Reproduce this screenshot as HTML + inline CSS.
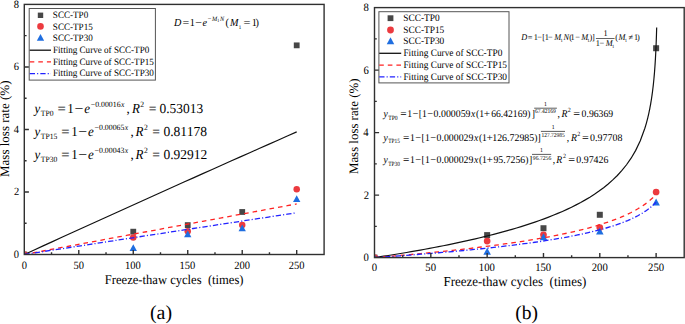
<!DOCTYPE html>
<html><head><meta charset="utf-8"><style>
html,body{margin:0;padding:0;background:#fff;}
svg{display:block;}
text{font-family:"Liberation Serif",serif;fill:#000;white-space:pre;text-rendering:geometricPrecision;}
</style></head><body>
<svg width="685" height="324" viewBox="0 0 685 324">
<rect width="685" height="324" fill="#fff"/>
<defs><clipPath id="ca"><rect x="24.3" y="4.4" width="299.80" height="250.10"/></clipPath><clipPath id="cb"><rect x="374.5" y="7.6" width="309.70" height="250.00"/></clipPath></defs>
<g clip-path="url(#ca)"><rect x="21.40" y="251.60" width="5.80" height="5.80" fill="#474747"/><circle cx="24.30" cy="254.50" r="3.25" fill="#ec3a3f"/><path d="M24.30 251.10L27.97 257.90L20.63 257.90Z" fill="#1f6ee0"/><rect x="130.36" y="228.78" width="5.80" height="5.80" fill="#474747"/><rect x="184.84" y="222.21" width="5.80" height="5.80" fill="#474747"/><rect x="239.32" y="209.08" width="5.80" height="5.80" fill="#474747"/><rect x="293.80" y="42.45" width="5.80" height="5.80" fill="#474747"/><circle cx="133.26" cy="237.62" r="3.25" fill="#ec3a3f"/><circle cx="187.74" cy="231.37" r="3.25" fill="#ec3a3f"/><circle cx="242.22" cy="225.11" r="3.25" fill="#ec3a3f"/><circle cx="296.70" cy="189.16" r="3.25" fill="#ec3a3f"/><path d="M133.26 244.22L136.93 251.02L129.59 251.02Z" fill="#1f6ee0"/><path d="M187.74 230.47L191.41 237.27L184.07 237.27Z" fill="#1f6ee0"/><path d="M242.22 224.53L245.89 231.33L238.55 231.33Z" fill="#1f6ee0"/><path d="M296.70 195.14L300.37 201.94L293.03 201.94Z" fill="#1f6ee0"/><path d="M24.30 254.50 L33.69 250.19 L43.09 245.89 L52.48 241.59 L61.87 237.30 L71.27 233.01 L80.66 228.73 L90.05 224.46 L99.44 220.19 L108.84 215.93 L118.23 211.68 L127.62 207.43 L137.02 203.18 L146.41 198.94 L155.80 194.71 L165.20 190.48 L174.59 186.26 L183.98 182.05 L193.38 177.84 L202.77 173.63 L212.16 169.44 L221.56 165.25 L230.95 161.06 L240.34 156.88 L249.73 152.70 L259.13 148.54 L268.52 144.37 L277.91 140.22 L287.31 136.06 L296.70 131.92" stroke="#111" stroke-width="1.2" fill="none"/><path d="M24.30 254.50 L33.69 252.74 L43.09 250.99 L52.48 249.23 L61.87 247.48 L71.27 245.73 L80.66 243.97 L90.05 242.22 L99.44 240.47 L108.84 238.73 L118.23 236.98 L127.62 235.23 L137.02 233.48 L146.41 231.74 L155.80 230.00 L165.20 228.25 L174.59 226.51 L183.98 224.77 L193.38 223.03 L202.77 221.29 L212.16 219.55 L221.56 217.82 L230.95 216.08 L240.34 214.35 L249.73 212.61 L259.13 210.88 L268.52 209.15 L277.91 207.41 L287.31 205.68 L296.70 203.96" stroke="#f22" stroke-width="1.3" fill="none" stroke-dasharray="4.6 4"/><path d="M24.30 254.50 L33.69 253.05 L43.09 251.60 L52.48 250.15 L61.87 248.71 L71.27 247.26 L80.66 245.81 L90.05 244.37 L99.44 242.92 L108.84 241.48 L118.23 240.03 L127.62 238.59 L137.02 237.15 L146.41 235.71 L155.80 234.27 L165.20 232.83 L174.59 231.39 L183.98 229.95 L193.38 228.51 L202.77 227.07 L212.16 225.64 L221.56 224.20 L230.95 222.76 L240.34 221.33 L249.73 219.89 L259.13 218.46 L268.52 217.03 L277.91 215.60 L287.31 214.16 L296.70 212.73" stroke="#22f" stroke-width="1.3" fill="none" stroke-dasharray="5.3 2.1 1.1 2.1"/></g>
<rect x="24.30" y="4.40" width="299.80" height="250.10" fill="none" stroke="#303030" stroke-width="1.4"/>
<path d="M51.54 254.50V252.20M78.78 254.50V249.90M106.02 254.50V252.20M133.26 254.50V249.90M160.50 254.50V252.20M187.74 254.50V249.90M214.98 254.50V252.20M242.22 254.50V249.90M269.46 254.50V252.20M296.70 254.50V249.90M24.30 223.24H26.60M24.30 191.97H28.90M24.30 160.71H26.60M24.30 129.45H28.90M24.30 98.19H26.60M24.30 66.93H28.90M24.30 35.66H26.60" stroke="#303030" stroke-width="1.4" fill="none"/>
<g clip-path="url(#cb)"><rect x="371.50" y="254.60" width="6.00" height="6.00" fill="#474747"/><circle cx="374.50" cy="257.60" r="3.35" fill="#ec3a3f"/><path d="M374.50 254.10L378.28 261.10L370.72 261.10Z" fill="#1f6ee0"/><rect x="484.15" y="232.10" width="6.00" height="6.00" fill="#474747"/><rect x="540.48" y="225.23" width="6.00" height="6.00" fill="#474747"/><rect x="596.80" y="211.79" width="6.00" height="6.00" fill="#474747"/><rect x="653.12" y="45.23" width="6.00" height="6.00" fill="#474747"/><circle cx="487.15" cy="241.04" r="3.35" fill="#ec3a3f"/><circle cx="543.48" cy="234.79" r="3.35" fill="#ec3a3f"/><circle cx="599.80" cy="227.60" r="3.35" fill="#ec3a3f"/><circle cx="656.12" cy="191.98" r="3.35" fill="#ec3a3f"/><path d="M487.15 247.85L490.93 254.85L483.37 254.85Z" fill="#1f6ee0"/><path d="M543.48 233.16L547.25 240.16L539.70 240.16Z" fill="#1f6ee0"/><path d="M599.80 227.54L603.58 234.54L596.02 234.54Z" fill="#1f6ee0"/><path d="M656.12 198.48L659.90 205.48L652.35 205.48Z" fill="#1f6ee0"/><path d="M374.50 257.60 L379.08 256.90 L383.66 256.19 L388.25 255.47 L392.83 254.74 L397.41 254.00 L401.99 253.24 L406.58 252.47 L411.16 251.68 L415.74 250.88 L420.32 250.07 L424.91 249.24 L429.49 248.39 L434.07 247.53 L438.65 246.65 L443.24 245.75 L447.82 244.83 L452.40 243.89 L456.98 242.93 L461.57 241.95 L466.15 240.94 L470.73 239.91 L475.31 238.86 L479.89 237.78 L484.48 236.67 L489.06 235.53 L493.64 234.36 L498.22 233.16 L502.81 231.93 L507.39 230.66 L511.97 229.35 L516.55 227.99 L521.14 226.60 L525.72 225.15 L530.30 223.66 L534.88 222.11 L539.47 220.51 L544.05 218.84 L548.63 217.10 L553.21 215.30 L557.79 213.41 L562.38 211.43 L566.96 209.36 L571.54 207.18 L576.12 204.88 L580.71 202.46 L585.29 199.88 L589.87 197.14 L594.45 194.22 L599.04 191.07 L603.62 187.67 L608.20 183.98 L612.78 179.93 L617.37 175.46 L621.95 170.45 L626.53 164.76 L631.11 158.18 L635.70 150.38 L640.28 140.78 L644.86 128.28 L645.09 127.55 L645.28 126.91 L645.48 126.26 L645.67 125.60 L645.87 124.93 L646.07 124.24 L646.26 123.55 L646.46 122.84 L646.66 122.12 L646.85 121.39 L647.05 120.65 L647.25 119.89 L647.44 119.12 L647.64 118.33 L647.84 117.53 L648.03 116.71 L648.23 115.88 L648.43 115.02 L648.62 114.15 L648.82 113.27 L649.01 112.36 L649.21 111.43 L649.41 110.48 L649.60 109.51 L649.80 108.51 L650.00 107.49 L650.19 106.44 L650.39 105.37 L650.59 104.27 L650.78 103.14 L650.98 101.97 L651.18 100.77 L651.37 99.54 L651.57 98.27 L651.77 96.95 L651.96 95.60 L652.16 94.19 L652.35 92.74 L652.55 91.23 L652.75 89.67 L652.94 88.05 L653.14 86.35 L653.34 84.59 L653.53 82.74 L653.73 80.81 L653.93 78.78 L654.12 76.65 L654.32 74.40 L654.52 72.01 L654.71 69.48 L654.91 66.78 L655.11 63.89 L655.30 60.78 L655.50 57.40 L655.69 53.72 L655.89 49.68 L656.09 45.18 L656.28 40.12 L656.48 34.33 L656.68 27.56" stroke="#111" stroke-width="1.2" fill="none"/><path d="M374.50 257.60 L378.06 257.31 L381.63 257.02 L385.19 256.72 L388.76 256.43 L392.32 256.12 L395.89 255.82 L399.45 255.51 L403.02 255.19 L406.58 254.87 L410.15 254.55 L413.71 254.22 L417.28 253.89 L420.84 253.56 L424.41 253.22 L427.97 252.87 L431.54 252.52 L435.10 252.17 L438.67 251.81 L442.23 251.44 L445.80 251.07 L449.36 250.69 L452.93 250.31 L456.49 249.92 L460.06 249.53 L463.62 249.13 L467.19 248.72 L470.75 248.30 L474.32 247.88 L477.88 247.45 L481.45 247.02 L485.01 246.57 L488.58 246.12 L492.14 245.66 L495.71 245.19 L499.27 244.71 L502.84 244.22 L506.40 243.72 L509.97 243.21 L513.53 242.69 L517.09 242.16 L520.66 241.61 L524.22 241.06 L527.79 240.49 L531.35 239.91 L534.92 239.31 L538.48 238.70 L542.05 238.07 L545.61 237.43 L549.18 236.77 L552.74 236.09 L556.31 235.39 L559.87 234.68 L563.44 233.94 L567.00 233.17 L570.57 232.38 L574.13 231.57 L577.70 230.73 L581.26 229.86 L584.83 228.95 L588.39 228.01 L591.96 227.04 L595.52 226.02 L599.09 224.96 L602.65 223.85 L606.22 222.68 L609.78 221.46 L613.35 220.18 L616.91 218.82 L620.48 217.38 L624.04 215.85 L627.61 214.22 L631.17 212.48 L634.74 210.59 L638.30 208.55 L641.87 206.32 L645.43 203.87 L649.00 201.14 L652.56 198.06 L656.12 194.53" stroke="#f22" stroke-width="1.3" fill="none" stroke-dasharray="4.6 4"/><path d="M374.50 257.60 L378.06 257.36 L381.63 257.12 L385.19 256.87 L388.76 256.62 L392.32 256.37 L395.89 256.11 L399.45 255.85 L403.02 255.59 L406.58 255.32 L410.15 255.05 L413.71 254.78 L417.28 254.50 L420.84 254.22 L424.41 253.94 L427.97 253.65 L431.54 253.36 L435.10 253.06 L438.67 252.76 L442.23 252.45 L445.80 252.14 L449.36 251.83 L452.93 251.51 L456.49 251.18 L460.06 250.85 L463.62 250.51 L467.19 250.17 L470.75 249.82 L474.32 249.47 L477.88 249.11 L481.45 248.74 L485.01 248.37 L488.58 247.99 L492.14 247.60 L495.71 247.20 L499.27 246.80 L502.84 246.39 L506.40 245.97 L509.97 245.54 L513.53 245.10 L517.09 244.65 L520.66 244.19 L524.22 243.72 L527.79 243.24 L531.35 242.75 L534.92 242.25 L538.48 241.73 L542.05 241.20 L545.61 240.65 L549.18 240.09 L552.74 239.52 L556.31 238.92 L559.87 238.31 L563.44 237.68 L567.00 237.03 L570.57 236.36 L574.13 235.66 L577.70 234.94 L581.26 234.19 L584.83 233.42 L588.39 232.61 L591.96 231.77 L595.52 230.89 L599.09 229.97 L602.65 229.01 L606.22 228.00 L609.78 226.94 L613.35 225.82 L616.91 224.63 L620.48 223.36 L624.04 222.01 L627.61 220.57 L631.17 219.01 L634.74 217.32 L638.30 215.47 L641.87 213.43 L645.43 211.17 L649.00 208.61 L652.56 205.68 L656.12 202.25" stroke="#22f" stroke-width="1.3" fill="none" stroke-dasharray="5.3 2.1 1.1 2.1"/></g>
<rect x="374.50" y="7.60" width="309.70" height="250.00" fill="none" stroke="#303030" stroke-width="1.4"/>
<path d="M402.66 257.60V255.30M430.82 257.60V253.00M458.99 257.60V255.30M487.15 257.60V253.00M515.31 257.60V255.30M543.48 257.60V253.00M571.64 257.60V255.30M599.80 257.60V253.00M627.96 257.60V255.30M656.12 257.60V253.00M374.50 226.35H376.80M374.50 195.10H379.10M374.50 163.85H376.80M374.50 132.60H379.10M374.50 101.35H376.80M374.50 70.10H379.10M374.50 38.85H376.80" stroke="#303030" stroke-width="1.4" fill="none"/>
<rect x="29.20" y="8.50" width="126.20" height="71.60" fill="#fff" stroke="#555" stroke-width="1"/>
<rect x="37.80" y="12.60" width="5.40" height="5.40" fill="#474747"/>
<circle cx="40.50" cy="26.40" r="3.30" fill="#ec3a3f"/>
<path d="M40.50 33.90L44.17 40.70L36.83 40.70Z" fill="#1f6ee0"/>
<path d="M29.70 50.20H51.00" stroke="#111" stroke-width="1.3" stroke-dasharray="none"/>
<path d="M29.70 61.90H51.00" stroke="#f22" stroke-width="1.3" stroke-dasharray="4.6 4"/>
<path d="M29.70 73.60H51.00" stroke="#22f" stroke-width="1.3" stroke-dasharray="5.3 2.1 1.1 2.1"/>
<rect x="378.90" y="11.70" width="130.10" height="71.20" fill="#fff" stroke="#555" stroke-width="1"/>
<rect x="387.60" y="15.30" width="5.80" height="5.80" fill="#474747"/>
<circle cx="390.50" cy="30.00" r="3.40" fill="#ec3a3f"/>
<path d="M390.50 37.20L394.28 44.20L386.72 44.20Z" fill="#1f6ee0"/>
<path d="M379.20 53.30H401.20" stroke="#111" stroke-width="1.3" stroke-dasharray="none"/>
<path d="M379.20 65.20H401.20" stroke="#f22" stroke-width="1.3" stroke-dasharray="4.6 4"/>
<path d="M379.20 76.90H401.20" stroke="#22f" stroke-width="1.3" stroke-dasharray="5.3 2.1 1.1 2.1"/>
<path d="M534.20 108.20H556.90" stroke="#333" stroke-width="0.8"/>
<path d="M540.90 131.40H565.00" stroke="#333" stroke-width="0.8"/>
<path d="M532.00 154.40H551.20" stroke="#333" stroke-width="0.8"/>
<path d="M595.9 38.5H614.6" stroke="#222" stroke-width="0.7"/>
<text transform="translate(13.87 257.96) scale(1 1.06)" font-size="10.5">0</text>
<text transform="translate(14.08 195.44) scale(1 1.06)" font-size="10.5">2</text>
<text transform="translate(13.66 132.91) scale(1 1.06)" font-size="10.5">4</text>
<text transform="translate(13.76 70.39) scale(1 1.06)" font-size="10.5">6</text>
<text transform="translate(13.87 7.87) scale(1 1.06)" font-size="10.5">8</text>
<text transform="translate(21.68 268.60) scale(1 1.06)" font-size="10.5">0</text>
<text transform="translate(73.42 268.60) scale(1 1.06)" font-size="10.5">50</text>
<text transform="translate(125.12 268.60) scale(1 1.06)" font-size="10.5">100</text>
<text transform="translate(179.60 268.60) scale(1 1.06)" font-size="10.5">150</text>
<text transform="translate(234.29 268.60) scale(1 1.06)" font-size="10.5">200</text>
<text transform="translate(288.77 268.60) scale(1 1.06)" font-size="10.5">250</text>
<text transform="translate(363.57 261.13) scale(1 1.06)" font-size="10.7">0</text>
<text transform="translate(363.79 198.63) scale(1 1.06)" font-size="10.7">2</text>
<text transform="translate(363.36 136.13) scale(1 1.06)" font-size="10.7">4</text>
<text transform="translate(363.46 73.63) scale(1 1.06)" font-size="10.7">6</text>
<text transform="translate(363.57 11.13) scale(1 1.06)" font-size="10.7">8</text>
<text transform="translate(371.82 271.20) scale(1 1.06)" font-size="10.7">0</text>
<text transform="translate(425.37 271.20) scale(1 1.06)" font-size="10.7">50</text>
<text transform="translate(478.86 271.20) scale(1 1.06)" font-size="10.7">100</text>
<text transform="translate(535.18 271.20) scale(1 1.06)" font-size="10.7">150</text>
<text transform="translate(591.72 271.20) scale(1 1.06)" font-size="10.7">200</text>
<text transform="translate(648.05 271.20) scale(1 1.06)" font-size="10.7">250</text>
<text transform="translate(104.85 283.90) scale(1 1.06)" font-size="12.6" textLength="138.69" lengthAdjust="spacingAndGlyphs">Freeze-thaw cycles  (times)</text>
<text transform="translate(443.54 285.70) scale(1 1.06)" font-size="12.95" textLength="142.72" lengthAdjust="spacingAndGlyphs">Freeze-thaw cycles  (times)</text>
<text x="150.00" y="319.40" font-size="19.9">(a)</text>
<text x="515.22" y="319.40" font-size="19.6">(b)</text>
<text transform="translate(52.85 18.30) scale(1 1.06)" font-size="9.1">SCC-TP0</text>
<text transform="translate(52.85 29.90) scale(1 1.06)" font-size="9.1">SCC-TP15</text>
<text transform="translate(52.85 40.90) scale(1 1.06)" font-size="9.1">SCC-TP30</text>
<text transform="translate(53.02 53.30) scale(1 1.06)" font-size="9.1">Fitting Curve of SCC-TP0</text>
<text transform="translate(53.02 64.80) scale(1 1.06)" font-size="9.1">Fitting Curve of SCC-TP15</text>
<text transform="translate(53.02 76.30) scale(1 1.06)" font-size="9.1">Fitting Curve of SCC-TP30</text>
<text transform="translate(403.24 21.30) scale(1 1.06)" font-size="9.35">SCC-TP0</text>
<text transform="translate(403.24 32.70) scale(1 1.06)" font-size="9.35">SCC-TP15</text>
<text transform="translate(403.24 44.40) scale(1 1.06)" font-size="9.35">SCC-TP30</text>
<text transform="translate(403.41 56.30) scale(1 1.06)" font-size="9.35">Fitting Curve of SCC-TP0</text>
<text transform="translate(403.41 68.00) scale(1 1.06)" font-size="9.35">Fitting Curve of SCC-TP15</text>
<text transform="translate(403.41 79.80) scale(1 1.06)" font-size="9.35">Fitting Curve of SCC-TP30</text>
<text transform="translate(34.47 112.60) scale(1 1.06)" font-size="13.0" font-style="italic">y</text>
<text transform="translate(40.82 116.00) scale(1 1.06)" font-size="7.6">TP0</text>
<text transform="translate(57.41 112.60) scale(1 1.06)" font-size="13.0" textLength="8.34" lengthAdjust="spacingAndGlyphs">=</text>
<text transform="translate(67.36 112.60) scale(1 1.06)" font-size="13.0">1</text>
<text transform="translate(74.47 112.60) scale(1 1.06)" font-size="13.0" textLength="8.93" lengthAdjust="spacingAndGlyphs">−</text>
<text transform="translate(84.21 112.60) scale(1 1.06)" font-size="13.0" font-style="italic">e</text>
<text transform="translate(90.79 106.70) scale(1 1.06)" font-size="7.6" textLength="29.77" lengthAdjust="spacingAndGlyphs">−0.00016</text>
<text transform="translate(121.05 106.70) scale(1 1.06)" font-size="7.6" font-style="italic">x</text>
<text transform="translate(126.61 112.60) scale(1 1.06)" font-size="13.0">,</text>
<text transform="translate(131.93 112.60) scale(1 1.06)" font-size="13.0" font-style="italic">R</text>
<text transform="translate(140.30 106.70) scale(1 1.06)" font-size="7.6">2</text>
<text transform="translate(148.75 112.60) scale(1 1.06)" font-size="13.0" textLength="7.75" lengthAdjust="spacingAndGlyphs">=</text>
<text transform="translate(159.50 112.60) scale(1 1.06)" font-size="13.0" textLength="43.61" lengthAdjust="spacingAndGlyphs">0.53013</text>
<text transform="translate(34.47 135.80) scale(1 1.06)" font-size="13.0" font-style="italic">y</text>
<text transform="translate(40.82 139.20) scale(1 1.06)" font-size="7.6">TP15</text>
<text transform="translate(61.21 135.80) scale(1 1.06)" font-size="13.0" textLength="8.34" lengthAdjust="spacingAndGlyphs">=</text>
<text transform="translate(71.16 135.80) scale(1 1.06)" font-size="13.0">1</text>
<text transform="translate(78.27 135.80) scale(1 1.06)" font-size="13.0" textLength="8.93" lengthAdjust="spacingAndGlyphs">−</text>
<text transform="translate(88.01 135.80) scale(1 1.06)" font-size="13.0" font-style="italic">e</text>
<text transform="translate(94.59 129.90) scale(1 1.06)" font-size="7.6" textLength="29.85" lengthAdjust="spacingAndGlyphs">−0.00065</text>
<text transform="translate(124.85 129.90) scale(1 1.06)" font-size="7.6" font-style="italic">x</text>
<text transform="translate(130.41 135.80) scale(1 1.06)" font-size="13.0">,</text>
<text transform="translate(135.43 135.80) scale(1 1.06)" font-size="13.0" font-style="italic">R</text>
<text transform="translate(143.90 129.90) scale(1 1.06)" font-size="7.6">2</text>
<text transform="translate(152.35 135.80) scale(1 1.06)" font-size="13.0" textLength="7.75" lengthAdjust="spacingAndGlyphs">=</text>
<text transform="translate(163.39 135.80) scale(1 1.06)" font-size="13.0" textLength="43.61" lengthAdjust="spacingAndGlyphs">0.81178</text>
<text transform="translate(34.47 158.90) scale(1 1.06)" font-size="13.0" font-style="italic">y</text>
<text transform="translate(40.82 162.30) scale(1 1.06)" font-size="7.6">TP30</text>
<text transform="translate(61.21 158.90) scale(1 1.06)" font-size="13.0" textLength="8.34" lengthAdjust="spacingAndGlyphs">=</text>
<text transform="translate(71.16 158.90) scale(1 1.06)" font-size="13.0">1</text>
<text transform="translate(78.27 158.90) scale(1 1.06)" font-size="13.0" textLength="8.93" lengthAdjust="spacingAndGlyphs">−</text>
<text transform="translate(88.01 158.90) scale(1 1.06)" font-size="13.0" font-style="italic">e</text>
<text transform="translate(94.59 153.00) scale(1 1.06)" font-size="7.6" textLength="29.85" lengthAdjust="spacingAndGlyphs">−0.00043</text>
<text transform="translate(124.85 153.00) scale(1 1.06)" font-size="7.6" font-style="italic">x</text>
<text transform="translate(130.41 158.90) scale(1 1.06)" font-size="13.0">,</text>
<text transform="translate(135.43 158.90) scale(1 1.06)" font-size="13.0" font-style="italic">R</text>
<text transform="translate(143.90 153.00) scale(1 1.06)" font-size="7.6">2</text>
<text transform="translate(152.35 158.90) scale(1 1.06)" font-size="13.0" textLength="7.75" lengthAdjust="spacingAndGlyphs">=</text>
<text transform="translate(163.39 158.90) scale(1 1.06)" font-size="13.0" textLength="43.88" lengthAdjust="spacingAndGlyphs">0.92912</text>
<text transform="translate(173.90 25.80) scale(1 1.06)" font-size="10.2" font-style="italic">D</text>
<text transform="translate(182.62 25.80) scale(1 1.06)" font-size="10.2" textLength="6.70" lengthAdjust="spacingAndGlyphs">=</text>
<text transform="translate(189.78 25.80) scale(1 1.06)" font-size="10.2">1</text>
<text transform="translate(195.33 25.80) scale(1 1.06)" font-size="10.2" textLength="6.70" lengthAdjust="spacingAndGlyphs">−</text>
<text transform="translate(202.49 25.80) scale(1 1.06)" font-size="10.2" font-style="italic">e</text>
<text transform="translate(207.75 20.80) scale(1 1.06)" font-size="6.2">−</text>
<text transform="translate(212.12 20.80) scale(1 1.06)" font-size="6.2" font-style="italic">M</text>
<text transform="translate(217.12 22.30) scale(1 1.06)" font-size="4.8">1</text>
<text transform="translate(219.96 20.80) scale(1 1.06)" font-size="6.2" font-style="italic">N</text>
<text transform="translate(225.49 25.80) scale(1 1.06)" font-size="10.2">(</text>
<text transform="translate(230.10 25.80) scale(1 1.06)" font-size="10.2" font-style="italic">M</text>
<text transform="translate(238.70 28.80) scale(1 1.06)" font-size="5.0">1</text>
<text transform="translate(243.51 25.80) scale(1 1.06)" font-size="10.2" textLength="6.93" lengthAdjust="spacingAndGlyphs">=</text>
<text transform="translate(251.78 25.80) scale(1 1.06)" font-size="10.2">1</text>
<text transform="translate(255.59 25.80) scale(1 1.06)" font-size="10.2">)</text>
<text transform="translate(383.47 117.30) scale(1 1.06)" font-size="9.7" font-style="italic">y</text>
<text transform="translate(388.24 119.60) scale(1 1.06)" font-size="6.0" textLength="9.43" lengthAdjust="spacingAndGlyphs">TP0</text>
<text transform="translate(400.15 117.30) scale(1 1.06)" font-size="9.7" textLength="6.34" lengthAdjust="spacingAndGlyphs">=</text>
<text transform="translate(407.22 117.30) scale(1 1.06)" font-size="9.7">1</text>
<text transform="translate(412.38 117.30) scale(1 1.06)" font-size="9.7" textLength="5.87" lengthAdjust="spacingAndGlyphs">−</text>
<text transform="translate(418.72 117.30) scale(1 1.06)" font-size="9.7">[</text>
<text transform="translate(422.12 117.30) scale(1 1.06)" font-size="9.7">1</text>
<text transform="translate(427.28 117.30) scale(1 1.06)" font-size="9.7" textLength="5.87" lengthAdjust="spacingAndGlyphs">−</text>
<text transform="translate(433.60 117.30) scale(1 1.06)" font-size="9.7" textLength="36.89" lengthAdjust="spacingAndGlyphs">0.000059</text>
<text transform="translate(471.09 117.30) scale(1 1.06)" font-size="9.7" font-style="italic">x</text>
<text transform="translate(476.11 117.30) scale(1 1.06)" font-size="9.7">(</text>
<text transform="translate(479.22 117.30) scale(1 1.06)" font-size="9.7">1</text>
<text transform="translate(483.65 117.30) scale(1 1.06)" font-size="9.7" textLength="6.34" lengthAdjust="spacingAndGlyphs">+</text>
<text transform="translate(491.22 117.30) scale(1 1.06)" font-size="9.7" textLength="36.07" lengthAdjust="spacingAndGlyphs">66.42169</text>
<text transform="translate(527.21 117.30) scale(1 1.06)" font-size="9.7">)</text>
<text transform="translate(531.71 117.30) scale(1 1.06)" font-size="9.7">]</text>
<text transform="translate(543.89 105.90) scale(1 1.06)" font-size="5.8">1</text>
<text transform="translate(534.98 113.10) scale(1 1.06)" font-size="5.6" textLength="20.84" lengthAdjust="spacingAndGlyphs">67.42169</text>
<text transform="translate(557.61 117.30) scale(1 1.06)" font-size="9.7">,</text>
<text transform="translate(561.60 117.30) scale(1 1.06)" font-size="9.7" font-style="italic">R</text>
<text transform="translate(567.86 112.30) scale(1 1.06)" font-size="6.0">2</text>
<text transform="translate(573.22 117.30) scale(1 1.06)" font-size="9.7" textLength="6.81" lengthAdjust="spacingAndGlyphs">=</text>
<text transform="translate(581.61 117.30) scale(1 1.06)" font-size="9.7" textLength="31.58" lengthAdjust="spacingAndGlyphs">0.96369</text>
<text transform="translate(383.47 140.80) scale(1 1.06)" font-size="9.7" font-style="italic">y</text>
<text transform="translate(388.25 143.10) scale(1 1.06)" font-size="6.0" textLength="11.61" lengthAdjust="spacingAndGlyphs">TP15</text>
<text transform="translate(403.05 140.80) scale(1 1.06)" font-size="9.7" textLength="6.34" lengthAdjust="spacingAndGlyphs">=</text>
<text transform="translate(410.12 140.80) scale(1 1.06)" font-size="9.7">1</text>
<text transform="translate(415.28 140.80) scale(1 1.06)" font-size="9.7" textLength="5.87" lengthAdjust="spacingAndGlyphs">−</text>
<text transform="translate(421.62 140.80) scale(1 1.06)" font-size="9.7">[</text>
<text transform="translate(425.02 140.80) scale(1 1.06)" font-size="9.7">1</text>
<text transform="translate(430.18 140.80) scale(1 1.06)" font-size="9.7" textLength="5.87" lengthAdjust="spacingAndGlyphs">−</text>
<text transform="translate(436.50 140.80) scale(1 1.06)" font-size="9.7" textLength="36.89" lengthAdjust="spacingAndGlyphs">0.000029</text>
<text transform="translate(473.99 140.80) scale(1 1.06)" font-size="9.7" font-style="italic">x</text>
<text transform="translate(479.01 140.80) scale(1 1.06)" font-size="9.7">(</text>
<text transform="translate(482.12 140.80) scale(1 1.06)" font-size="9.7">1</text>
<text transform="translate(486.55 140.80) scale(1 1.06)" font-size="9.7" textLength="6.34" lengthAdjust="spacingAndGlyphs">+</text>
<text transform="translate(492.21 140.80) scale(1 1.06)" font-size="9.7" textLength="41.99" lengthAdjust="spacingAndGlyphs">126.72985</text>
<text transform="translate(534.31 140.80) scale(1 1.06)" font-size="9.7">)</text>
<text transform="translate(537.51 140.80) scale(1 1.06)" font-size="9.7">]</text>
<text transform="translate(551.69 129.40) scale(1 1.06)" font-size="5.8">1</text>
<text transform="translate(541.46 136.80) scale(1 1.06)" font-size="5.6" textLength="23.41" lengthAdjust="spacingAndGlyphs">127.72985</text>
<text transform="translate(566.71 140.80) scale(1 1.06)" font-size="9.7">,</text>
<text transform="translate(570.90 140.80) scale(1 1.06)" font-size="9.7" font-style="italic">R</text>
<text transform="translate(577.36 135.80) scale(1 1.06)" font-size="6.0">2</text>
<text transform="translate(582.12 140.80) scale(1 1.06)" font-size="9.7" textLength="6.81" lengthAdjust="spacingAndGlyphs">=</text>
<text transform="translate(590.10 140.80) scale(1 1.06)" font-size="9.7" textLength="32.30" lengthAdjust="spacingAndGlyphs">0.97708</text>
<text transform="translate(383.47 163.30) scale(1 1.06)" font-size="9.7" font-style="italic">y</text>
<text transform="translate(388.25 165.60) scale(1 1.06)" font-size="6.0" textLength="11.61" lengthAdjust="spacingAndGlyphs">TP30</text>
<text transform="translate(403.05 163.30) scale(1 1.06)" font-size="9.7" textLength="6.34" lengthAdjust="spacingAndGlyphs">=</text>
<text transform="translate(410.12 163.30) scale(1 1.06)" font-size="9.7">1</text>
<text transform="translate(415.28 163.30) scale(1 1.06)" font-size="9.7" textLength="5.87" lengthAdjust="spacingAndGlyphs">−</text>
<text transform="translate(421.62 163.30) scale(1 1.06)" font-size="9.7">[</text>
<text transform="translate(425.02 163.30) scale(1 1.06)" font-size="9.7">1</text>
<text transform="translate(430.18 163.30) scale(1 1.06)" font-size="9.7" textLength="5.87" lengthAdjust="spacingAndGlyphs">−</text>
<text transform="translate(436.50 163.30) scale(1 1.06)" font-size="9.7" textLength="36.89" lengthAdjust="spacingAndGlyphs">0.000029</text>
<text transform="translate(473.99 163.30) scale(1 1.06)" font-size="9.7" font-style="italic">x</text>
<text transform="translate(479.01 163.30) scale(1 1.06)" font-size="9.7">(</text>
<text transform="translate(482.12 163.30) scale(1 1.06)" font-size="9.7">1</text>
<text transform="translate(486.55 163.30) scale(1 1.06)" font-size="9.7" textLength="6.34" lengthAdjust="spacingAndGlyphs">+</text>
<text transform="translate(493.41 163.30) scale(1 1.06)" font-size="9.7" textLength="31.79" lengthAdjust="spacingAndGlyphs">95.7256</text>
<text transform="translate(525.21 163.30) scale(1 1.06)" font-size="9.7">)</text>
<text transform="translate(529.11 163.30) scale(1 1.06)" font-size="9.7">]</text>
<text transform="translate(540.09 152.00) scale(1 1.06)" font-size="5.8">1</text>
<text transform="translate(532.83 160.40) scale(1 1.06)" font-size="5.6" textLength="18.48" lengthAdjust="spacingAndGlyphs">96.7256</text>
<text transform="translate(552.81 163.30) scale(1 1.06)" font-size="9.7">,</text>
<text transform="translate(556.20 163.30) scale(1 1.06)" font-size="9.7" font-style="italic">R</text>
<text transform="translate(562.96 158.30) scale(1 1.06)" font-size="6.0">2</text>
<text transform="translate(568.22 163.30) scale(1 1.06)" font-size="9.7" textLength="6.81" lengthAdjust="spacingAndGlyphs">=</text>
<text transform="translate(576.30 163.30) scale(1 1.06)" font-size="9.7" textLength="32.09" lengthAdjust="spacingAndGlyphs">0.97426</text>
<text transform="translate(521.37 40.30) scale(1 1.06)" font-size="8.3" font-style="italic">D</text>
<text transform="translate(527.77 40.30) scale(1 1.06)" font-size="8.3">=</text>
<text transform="translate(533.64 40.30) scale(1 1.06)" font-size="8.3">1</text>
<text transform="translate(537.37 40.30) scale(1 1.06)" font-size="8.3">−</text>
<text transform="translate(542.32 40.30) scale(1 1.06)" font-size="8.3">[</text>
<text transform="translate(544.74 40.30) scale(1 1.06)" font-size="8.3">1</text>
<text transform="translate(548.07 40.30) scale(1 1.06)" font-size="8.3">−</text>
<text transform="translate(554.27 40.30) scale(1 1.06)" font-size="8.3" font-style="italic">M</text>
<text transform="translate(560.53 41.90) scale(1 1.06)" font-size="4.6">1</text>
<text transform="translate(563.38 40.30) scale(1 1.06)" font-size="8.3" font-style="italic">N</text>
<text transform="translate(569.17 40.30) scale(1 1.06)" font-size="8.3">(</text>
<text transform="translate(570.54 40.30) scale(1 1.06)" font-size="8.3">1</text>
<text transform="translate(575.17 40.30) scale(1 1.06)" font-size="8.3">−</text>
<text transform="translate(581.27 40.30) scale(1 1.06)" font-size="8.3" font-style="italic">M</text>
<text transform="translate(587.23 41.90) scale(1 1.06)" font-size="4.6">1</text>
<text transform="translate(589.45 40.30) scale(1 1.06)" font-size="8.3">)</text>
<text transform="translate(591.95 40.30) scale(1 1.06)" font-size="8.3">]</text>
<text transform="translate(603.54 35.70) scale(1 1.06)" font-size="8.3">1</text>
<text transform="translate(595.84 45.90) scale(1 1.06)" font-size="8.3">1</text>
<text transform="translate(599.57 45.90) scale(1 1.06)" font-size="8.3">−</text>
<text transform="translate(605.67 45.90) scale(1 1.06)" font-size="8.3" font-style="italic">M</text>
<text transform="translate(611.93 47.50) scale(1 1.06)" font-size="4.6">1</text>
<text transform="translate(615.27 40.30) scale(1 1.06)" font-size="8.3">(</text>
<text transform="translate(618.47 40.30) scale(1 1.06)" font-size="8.3" font-style="italic">M</text>
<text transform="translate(624.73 41.90) scale(1 1.06)" font-size="4.6">1</text>
<text transform="translate(628.47 40.30) scale(1 1.06)" font-size="8.3">≠</text>
<text transform="translate(634.04 40.30) scale(1 1.06)" font-size="8.3">1</text>
<text transform="translate(636.95 40.30) scale(1 1.06)" font-size="8.3">)</text>
<text transform="translate(8.70,177.04) rotate(-90)" font-size="13.02">Mass loss rate (%)</text>
<text transform="translate(358.20,174.04) rotate(-90)" font-size="12.88">Mass loss rate (%)</text>
</svg>
</body></html>
